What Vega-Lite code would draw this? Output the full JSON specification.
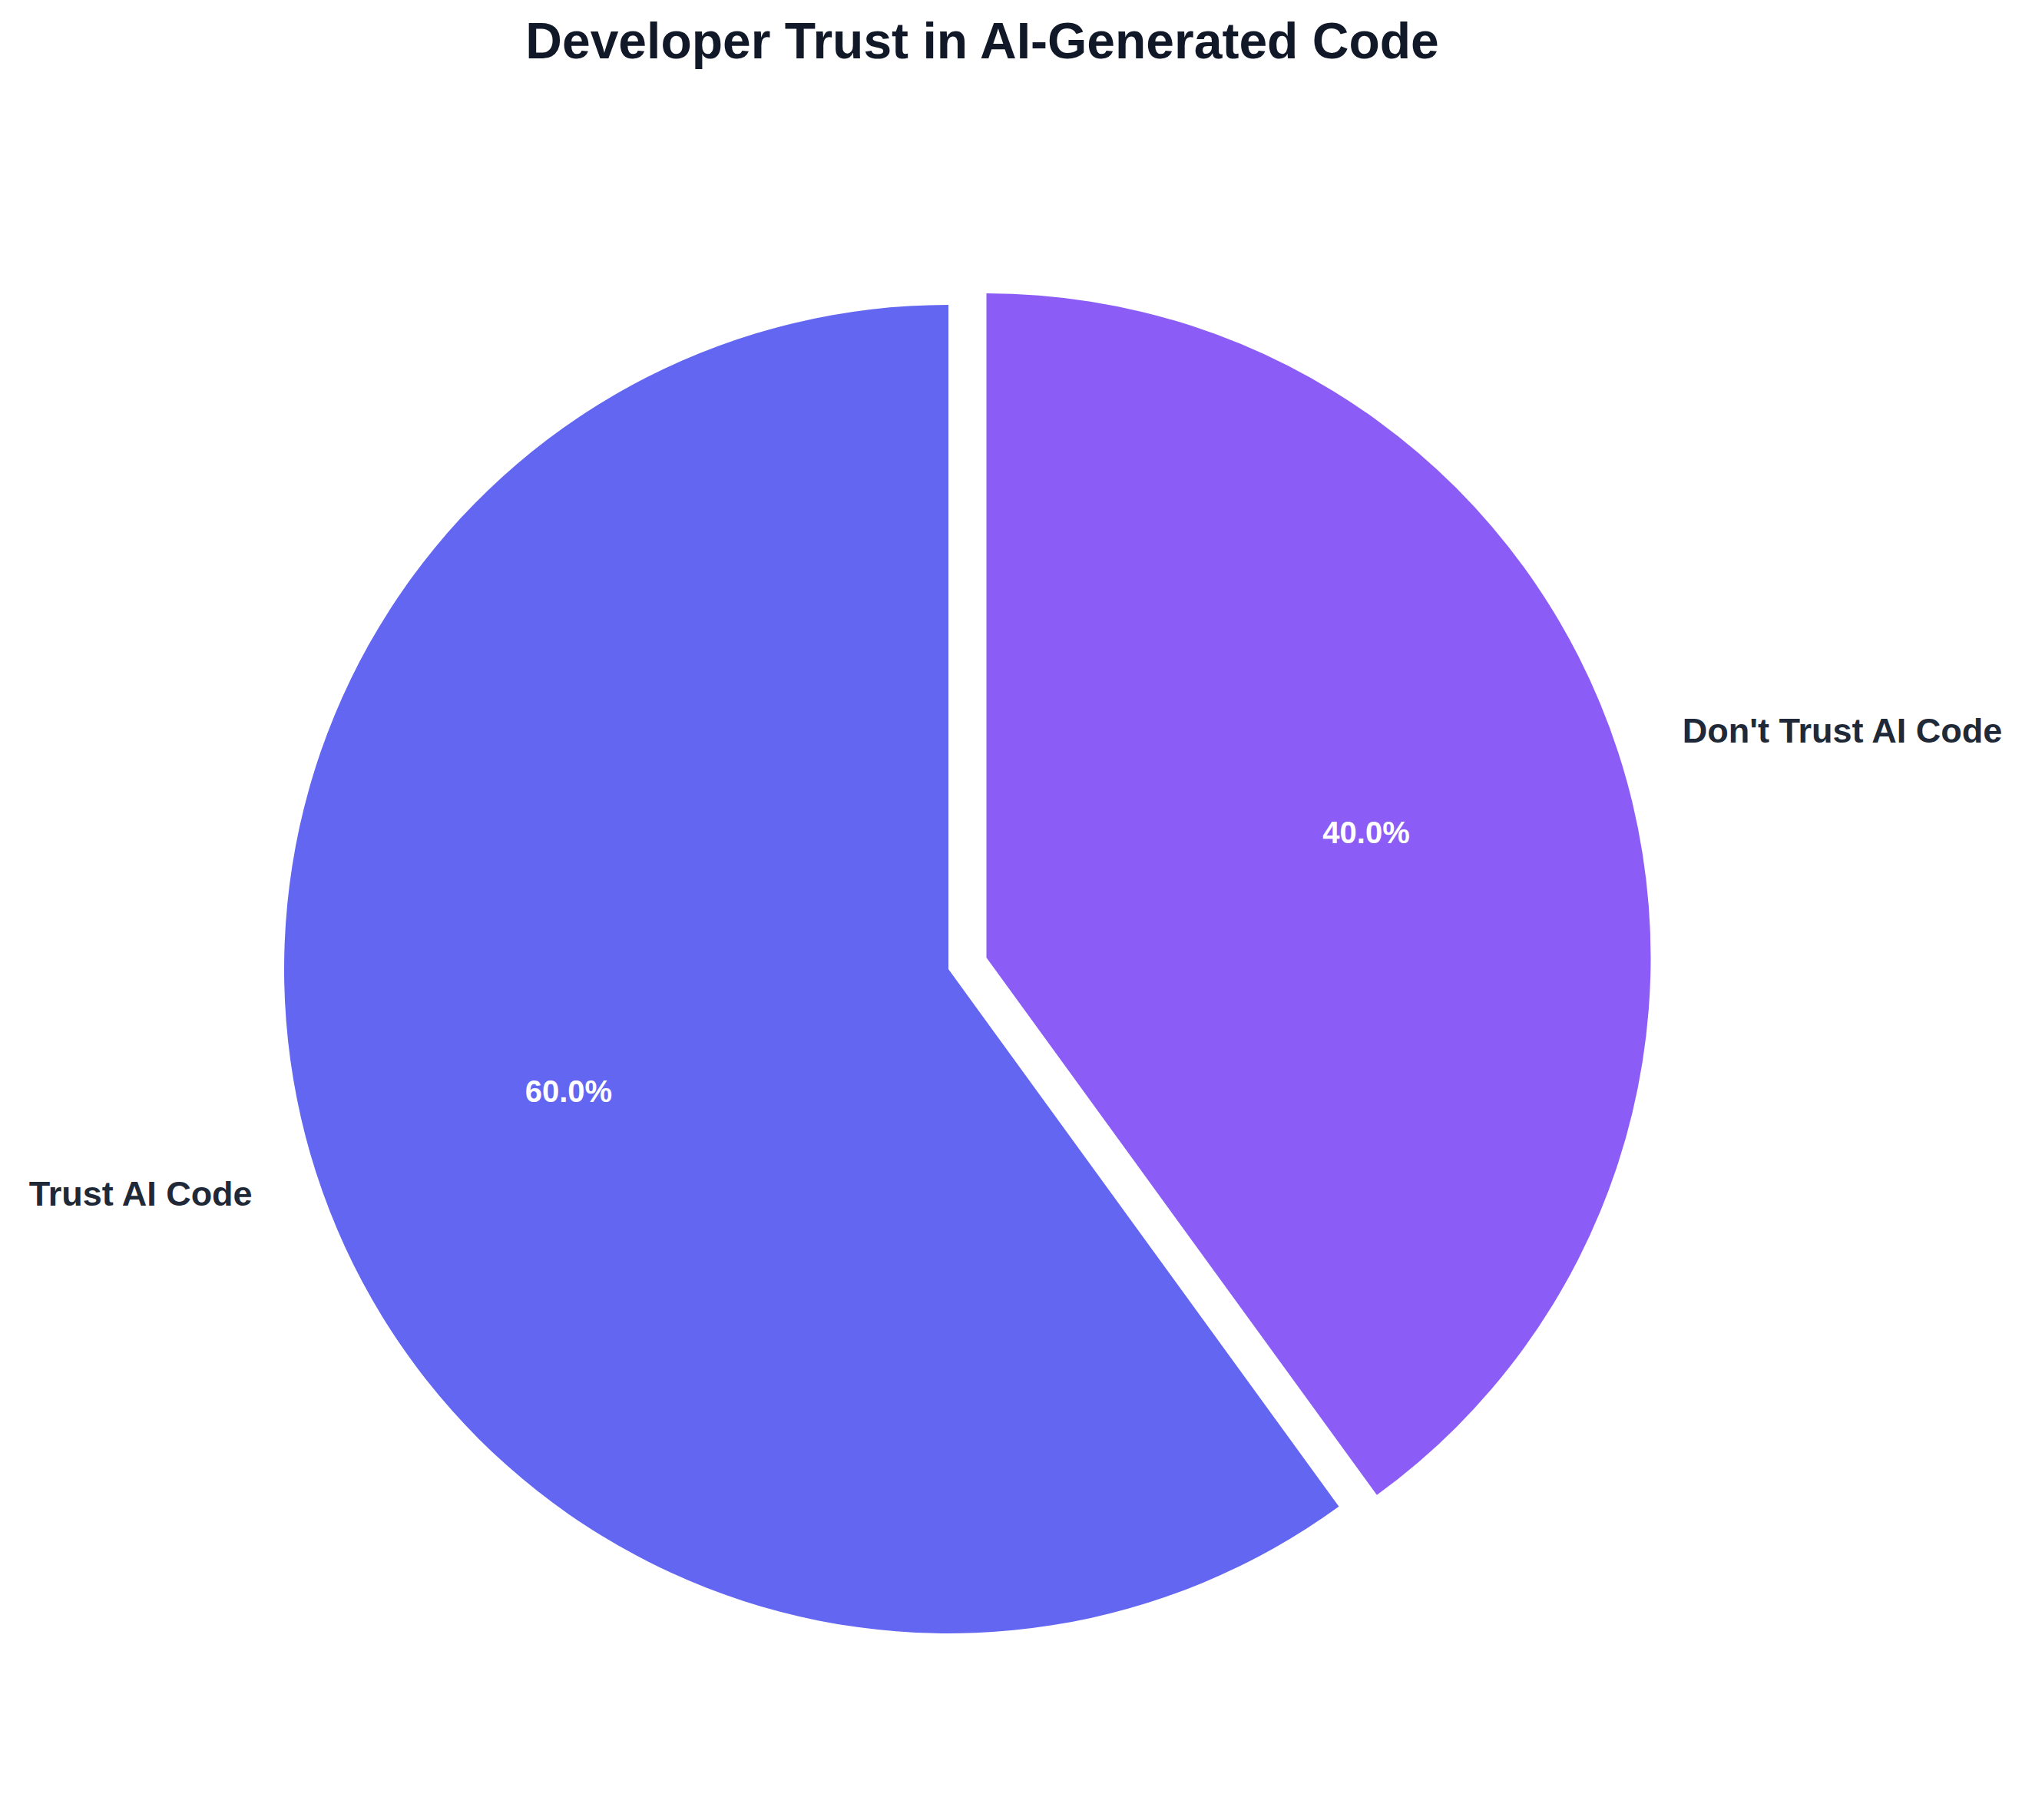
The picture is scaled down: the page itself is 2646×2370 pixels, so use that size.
{
  "$schema": "https://vega.github.io/schema/vega-lite/v6.json",
  "description": "Pie chart of developer trust in AI-generated code, with the smaller slice pulled out.",
  "autosize": {"type": "none"},
  "padding": {"left": 0, "top": 120, "right": 0, "bottom": 0},
  "width": 2646,
  "height": 2250,
  "background": "white",
  "title": {
    "text": "Developer Trust in AI-Generated Code",
    "font": "Liberation Sans",
    "fontSize": 66,
    "fontWeight": "bold",
    "color": "#111827",
    "anchor": "middle",
    "dx": -44,
    "offset": 30
  },
  "data": {
    "values": [
      {"category": "Trust AI Code", "share": 0.6},
      {"category": "Don't Trust AI Code", "share": 0.4}
    ]
  },
  "encoding": {
    "theta": {"field": "share", "type": "quantitative", "stack": true},
    "order": {"field": "category", "type": "ordinal", "sort": "ascending"}
  },
  "layer": [
    {
      "mark": {"type": "arc", "outerRadius": 865, "xOffset": -88, "yOffset": 17},
      "encoding": {
        "color": {
          "field": "category",
          "type": "nominal",
          "scale": {"domain": ["Don't Trust AI Code", "Trust AI Code"], "range": ["#8B5CF6", "#6366F1"]},
          "legend": null
        },
        "opacity": {"condition": {"test": "datum.category == 'Trust AI Code'", "value": 1}, "value": 0}
      }
    },
    {
      "mark": {"type": "arc", "outerRadius": 865, "xOffset": -38.5, "yOffset": 2},
      "encoding": {
        "color": {"field": "category", "type": "nominal", "legend": null},
        "opacity": {"condition": {"test": "datum.category == 'Trust AI Code'", "value": 0}, "value": 1}
      }
    },
    {
      "mark": {"type": "text", "radius": 520, "xOffset": -88, "yOffset": 17, "font": "Liberation Sans", "fontSize": 40, "fontWeight": "bold", "color": "white", "align": "center", "baseline": "middle"},
      "encoding": {
        "text": {"field": "share", "type": "quantitative", "format": ".1%"},
        "opacity": {"condition": {"test": "datum.category == 'Trust AI Code'", "value": 1}, "value": 0}
      }
    },
    {
      "mark": {"type": "text", "radius": 520, "xOffset": -38.5, "yOffset": 2, "font": "Liberation Sans", "fontSize": 40, "fontWeight": "bold", "color": "white", "align": "center", "baseline": "middle"},
      "encoding": {
        "text": {"field": "share", "type": "quantitative", "format": ".1%"},
        "opacity": {"condition": {"test": "datum.category == 'Trust AI Code'", "value": 0}, "value": 1}
      }
    },
    {
      "mark": {"type": "text", "radius": 953, "xOffset": -88, "yOffset": 17, "font": "Liberation Sans", "fontSize": 45, "fontWeight": "bold", "color": "#1F2937", "align": "right", "baseline": "middle"},
      "encoding": {
        "text": {"field": "category", "type": "nominal"},
        "opacity": {"condition": {"test": "datum.category == 'Trust AI Code'", "value": 1}, "value": 0}
      }
    },
    {
      "mark": {"type": "text", "radius": 953, "xOffset": -38.5, "yOffset": 2, "font": "Liberation Sans", "fontSize": 45, "fontWeight": "bold", "color": "#1F2937", "align": "left", "baseline": "middle"},
      "encoding": {
        "text": {"field": "category", "type": "nominal"},
        "opacity": {"condition": {"test": "datum.category == 'Trust AI Code'", "value": 0}, "value": 1}
      }
    }
  ]
}
